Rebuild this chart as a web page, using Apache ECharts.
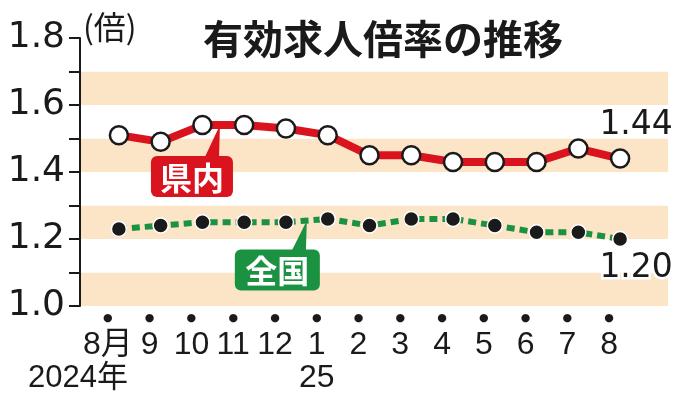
<!DOCTYPE html>
<html>
<head>
<meta charset="utf-8">
<script src="https://cdn.jsdelivr.net/npm/echarts@6/dist/echarts.min.js"></script>
<style>
html,body{margin:0;padding:0;background:#fff;}
#chart{width:684px;height:400px;}
</style>
</head>
<body>
<div id="chart"></div>
<script>
const categories = ['8月','9','10','11','12','1','2','3','4','5','6','7','8'];
const yearLabels = ['2024年','','','','','25','','','','','','',''];
const prefValues = [1.51,1.49,1.54,1.54,1.53,1.51,1.45,1.45,1.43,1.43,1.43,1.47,1.44];
const nationalValues = [1.23,1.24,1.25,1.25,1.25,1.26,1.24,1.26,1.26,1.24,1.22,1.22,1.20];
const yMin = 1.0, yMax = 1.8, yStep = 0.1;
const titleText = '有効求人倍率の推移';
const unitText = '(倍)';
const prefName = '県内', natName = '全国';

const NUM = '"Liberation Sans", Arial, sans-serif';
const YNUM = '"DejaVu Sans", sans-serif';
const CJK = '"Noto Sans CJK JP", sans-serif';
const INK = '#1a1a1a';
const RED = '#d9141e';
const GREEN = '#1b9142';

const chart = echarts.init(document.getElementById('chart'), null, {renderer:'canvas'});

function endLabel(values, pos, offset) {
  return values.map((v, i) => i === values.length - 1 ? {
    value: v,
    label: {
      show: true, position: pos, offset: offset, distance: 2,
      formatter: () => v.toFixed(2),
      fontFamily: YNUM, fontSize: 33, color: INK,
      textBorderColor: '#fff', textBorderWidth: 5
    }
  } : v);
}

const option = {
  animation: false,
  backgroundColor: '#fff',
  grid: [
    {left: 80, right: 16, top: 38, bottom: 94},
    {left: 98, right: 43, top: 38, bottom: 94}
  ],
  xAxis: [
    {gridIndex: 0, type: 'value', min: 0, max: 1, show: false},
    {
      gridIndex: 1, type: 'category', data: categories, boundaryGap: true,
      axisLine: {show: false}, axisTick: {show: false},
      axisLabel: {
        margin: 0, padding: [0, 22, 0, 0], interval: 0,
        formatter: v => '{d|●}\n{m|' + v + '}',
        rich: {
          d: {fontSize: 11, lineHeight: 24, color: INK, fontFamily: '"DejaVu Sans"'},
          m: {fontSize: 32, lineHeight: 30, color: INK, fontFamily: NUM + ',' + CJK}
        }
      }
    }
  ],
  yAxis: [
    {
      gridIndex: 0, type: 'value', min: yMin, max: yMax, interval: yStep,
      axisLine: {show: true, lineStyle: {color: INK, width: 2}},
      axisTick: {show: true, length: 11, lineStyle: {color: INK, width: 2}},
      axisLabel: {
        margin: 15, fontSize: 36, color: INK, fontFamily: YNUM,
        formatter: v => (Math.round(v * 10) % 2 === 0) ? v.toFixed(1) : ''
      },
      splitLine: {show: false},
      splitArea: {show: true, areaStyle: {color: ['#fce4c6', '#ffffff']}}
    },
    {gridIndex: 1, type: 'value', min: yMin, max: yMax, show: false}
  ],
  title: {
    text: titleText, left: 198, top: 14,
    textStyle: {fontFamily: CJK, fontSize: 40, fontWeight: 'bold', color: INK}
  },
  series: [
    {
      type: 'line', name: natName, xAxisIndex: 1, yAxisIndex: 1, z: 3,
      data: endLabel(nationalValues, 'bottom', [16, 3]),
      lineStyle: {color: GREEN, width: 6, type: [8, 5]},
      symbol: 'circle', symbolSize: 15,
      itemStyle: {color: INK, borderColor: '#fff', borderWidth: 1.5}
    },
    {
      type: 'line', name: prefName, xAxisIndex: 1, yAxisIndex: 1, z: 4,
      data: endLabel(prefValues, 'top', [16, -4]),
      lineStyle: {color: RED, width: 8},
      symbol: 'circle', symbolSize: 18,
      itemStyle: {color: '#fff', borderColor: INK, borderWidth: 2.5}
    }
  ]
};
chart.setOption(option);

function px(i, v) { return chart.convertToPixel({xAxisIndex: 1, yAxisIndex: 1}, [i, v]); }

function callout(tip, boxLeft, boxTop, w, h, color, text) {
  return {
    type: 'group', z: 1,
    children: [
      {type: 'polygon', z: 1, shape: {points: [[tip[0], tip[1]], [tip[0] - 16, boxTop + 3], [tip[0] - 1, boxTop + 3]]}, style: {fill: color}},
      {type: 'rect', z: 1, shape: {x: boxLeft, y: boxTop, width: w, height: h, r: 6}, style: {fill: color}},
      {type: 'text', z: 2, style: {x: boxLeft + w / 2, y: boxTop + h / 2 + 1, text: text, fill: '#fff', fontFamily: CJK, fontSize: 32, fontWeight: 'bold', textAlign: 'center', textVerticalAlign: 'middle'}}
    ]
  };
}

const p2 = px(2, prefValues[2]), p3 = px(3, prefValues[3]);
const tipPref = [p2[0] + 0.42 * (p3[0] - p2[0]), p2[1]];
const n4 = px(4, nationalValues[4]), n5 = px(5, nationalValues[5]);
const tipNat = [n4[0] + 0.5 * (n5[0] - n4[0]), (n4[1] + n5[1]) / 2];
const y0 = px(0, yMin), y5 = px(5, yMin);

chart.setOption({
  graphic: [
    {type: 'text', left: 83, top: 11, style: {text: unitText, fontFamily: CJK, fontSize: 32, fill: INK}},
    callout(tipPref, tipPref[0] - 69, tipPref[1] + 31, 82, 41, RED, prefName),
    callout(tipNat, tipNat[0] - 72, tipNat[1] + 29, 85, 41, GREEN, natName),
    {type: 'text', z: 1, style: {x: y0[0] + 9, y: 378, text: yearLabels[0], fontFamily: NUM + ',' + CJK, fontSize: 31, fill: INK, textAlign: 'right', textVerticalAlign: 'middle'}},
    {type: 'text', z: 1, style: {x: y5[0] - 11, y: 378, text: yearLabels[5], fontFamily: NUM, fontSize: 32, fill: INK, textAlign: 'center', textVerticalAlign: 'middle'}}
  ]
});
</script>
</body>
</html>
